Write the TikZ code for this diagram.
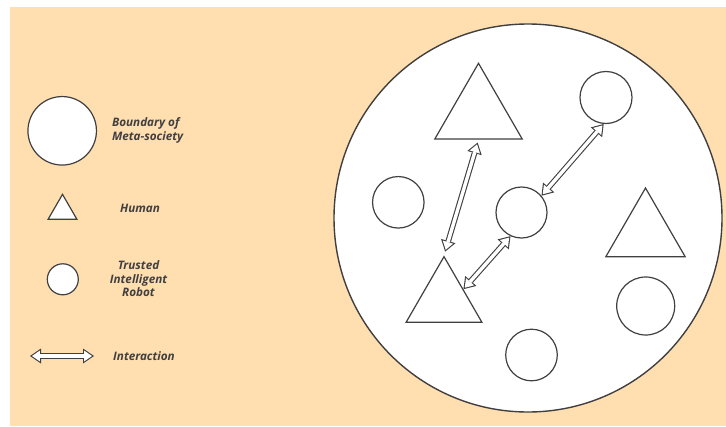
\documentclass[tikz,border=0pt]{standalone}
\usepackage{fontspec}
\usepackage{tikz}
\usetikzlibrary{shapes.geometric,arrows.meta,positioning,calc}
\newfontfamily\legendfont{Open Sans}
\definecolor{peach}{RGB}{255,222,176}
\definecolor{ink}{RGB}{64,64,64}
\tikzset{
    robot/.style={circle, draw=ink, fill=white, line width=1.2pt, inner sep=0pt},
    human/.style={regular polygon, regular polygon sides=3, draw=ink, fill=white, line width=1.2pt, inner sep=0pt},
    legendtext/.style={text=ink, font=\legendfont\bfseries\itshape\fontsize{11.7}{13.6}\selectfont},
    interact/.style={line width=5.6pt, draw=ink,
        {Triangle[length=11pt,width=15pt,line width=0pt]}-{Triangle[length=11pt,width=15pt,line width=0pt]},
        postaction={draw=white, line width=3.4pt, shorten <=1.95pt, shorten >=1.95pt,
            {Triangle[length=7.95pt,width=10.8pt,line width=0pt]}-{Triangle[length=7.95pt,width=10.8pt,line width=0pt]}}}
}

\begin{document}
\begin{tikzpicture}[x=1pt, y=-1pt]
    \useasboundingbox (0,0) rectangle (726,426);
    \fill[peach] (10,7) rectangle (726,426);

    % Legend
    \node[robot, minimum size=68.5pt] (lsoc) at (62.2,130.8) {};
    \node[legendtext, anchor=west, align=left] (lsoctxt) at (108.5,130.5) {Boundary of\\Meta-society};
    \node[human, minimum size=33.3pt] (lhuman) at (62.5,211) {};
    \node[legendtext] (lhumantxt) at (140,208) {Human};
    \node[robot, minimum size=31pt] (lrobot) at (62.8,279.3) {};
    \node[legendtext, align=center] (lrobottxt) at (138.5,279) {Trusted\\Intelligent\\Robot};
    \coordinate (lintl) at (30,356);
    \coordinate (lintr) at (94,356);
    \node[legendtext] (linttxt) at (144,356) {Interaction};

    % Meta-society
    \node[circle, draw=ink, fill=white, line width=1.4pt, minimum size=388pt] (society) at (528,218) {};

    % Humans
    \node[human, minimum size=101pt] (htop) at (478.5,113.8) {};
    \node[human, minimum size=87.5pt] (hlow) at (444,300.4) {};
    \node[human, minimum size=91.6pt] (hright) at (645.5,233.8) {};

    % Robots
    \node[robot, minimum size=52pt] (rtop) at (606,97.5) {};
    \node[robot, minimum size=51pt] (rmid) at (521.5,212.5) {};
    \node[robot, minimum size=51.5pt] (rleft) at (398.3,202.3) {};
    \node[robot, minimum size=58pt] (rright) at (645.7,306) {};
    \node[robot, minimum size=51.6pt] (rbot) at (531.5,355) {};

    % Interactions
    \coordinate (a1top) at ($(htop.side 2)!3pt!(hlow.corner 1)$);
    \coordinate (a1low) at ($(hlow.corner 1)!4pt!(htop.side 2)$);
    \draw[interact] (lintl) -- (lintr);
    \draw[interact] (a1top) -- (a1low);
    \draw[interact] (rmid.40) -- (rtop.265);
    \draw[interact] (hlow.side 3) -- (rmid.245);
\end{tikzpicture}
\end{document}
